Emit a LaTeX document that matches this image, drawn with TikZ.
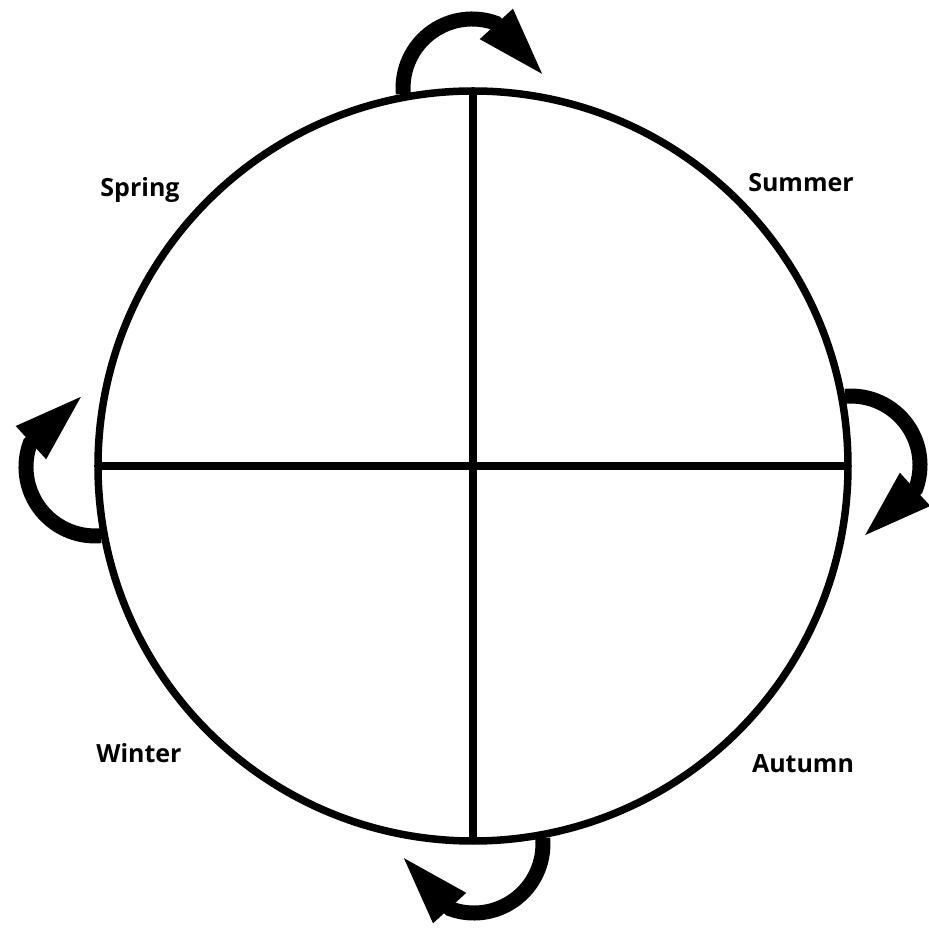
\documentclass[tikz,border=0pt]{standalone}
\usepackage{fontspec}
\setmainfont{Open Sans}
\usetikzlibrary{arrows.meta}

\begin{document}
\begin{tikzpicture}[x=1pt, y=1pt,
    season/.style={anchor=base, font=\fontsize{25}{30}\selectfont\bfseries},
    turn/.style={line width=15pt, -{Triangle[length=72pt, width=40pt]}}]
  \useasboundingbox (-473,-462) rectangle (456,466);
  % Wheel of the year
  \draw[line width=7.5pt] (0,0) circle[radius=375];
  \draw[line width=7.5pt] (0,375) -- (0,-375);
  \draw[line width=7.5pt] (-375,0) -- (375,0);
  % Turning arrows, one per quarter
  \foreach \a in {0,90,180,270} {
    \draw[turn, rotate=\a] (-69.7,372) arc[start angle=185, end angle=70, radius=69]
      -- (72,389);
  }
  % Season labels
  \node[season] (spring) at (-333,269) {Spring};
  \node[season] (summer) at (328,274) {Summer};
  \node[season] (winter) at (-334,-296) {Winter};
  \node[season] (autumn) at (330,-306) {Autumn};
\end{tikzpicture}
\end{document}
